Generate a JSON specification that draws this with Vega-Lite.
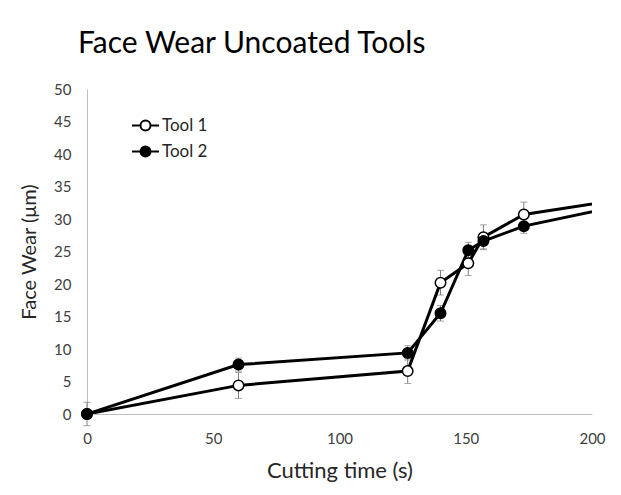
{
  "$schema": "https://vega.github.io/schema/vega-lite/v6.json",
  "width": 505,
  "height": 325,
  "autosize": "none",
  "padding": {"left": 87, "top": 89, "right": 29, "bottom": 81},
  "background": "white",
  "title": {
    "text": "Face Wear Uncoated Tools",
    "anchor": "start",
    "frame": "group",
    "dx": -9,
    "dy": 35,
    "offset": 34,
    "baseline": "alphabetic",
    "font": "Lato",
    "fontSize": 30,
    "fontWeight": "normal",
    "color": "#000000"
  },
  "config": {
    "view": {"stroke": null},
    "axis": {
      "grid": false,
      "ticks": false,
      "domainColor": "#bfbfbf",
      "domainWidth": 1,
      "labelFont": "Lato",
      "labelFontSize": 15,
      "labelColor": "#404040",
      "titleFont": "Lato",
      "titleFontSize": 20,
      "titleFontWeight": "normal",
      "titleColor": "#262626"
    },
    "legend": {
      "labelFont": "Lato",
      "labelFontSize": 17,
      "labelColor": "#262626"
    }
  },
  "data": {
    "values": [
      {"tool": "Tool 1", "time": 0, "wear": 0, "err": 1.8},
      {"tool": "Tool 1", "time": 60, "wear": 4.4, "err": 2.0},
      {"tool": "Tool 1", "time": 127, "wear": 6.6, "err": 1.9},
      {"tool": "Tool 1", "time": 140, "wear": 20.2, "err": 1.9},
      {"tool": "Tool 1", "time": 151, "wear": 23.2, "err": 1.9},
      {"tool": "Tool 1", "time": 157, "wear": 27.2, "err": 1.9},
      {"tool": "Tool 1", "time": 173, "wear": 30.7, "err": 1.9},
      {"tool": "Tool 1", "time": 240, "wear": 34.7},
      {"tool": "Tool 2", "time": 0, "wear": 0, "err": 0},
      {"tool": "Tool 2", "time": 60, "wear": 7.6, "err": 1.0},
      {"tool": "Tool 2", "time": 127, "wear": 9.4, "err": 1.1},
      {"tool": "Tool 2", "time": 140, "wear": 15.5, "err": 1.2},
      {"tool": "Tool 2", "time": 151, "wear": 25.2, "err": 1.2},
      {"tool": "Tool 2", "time": 157, "wear": 26.6, "err": 1.2},
      {"tool": "Tool 2", "time": 173, "wear": 28.9, "err": 1.1},
      {"tool": "Tool 2", "time": 240, "wear": 34.4}
    ]
  },
  "encoding": {
    "x": {
      "field": "time",
      "type": "quantitative",
      "scale": {"domain": [0, 200], "nice": false, "zero": false},
      "axis": {"values": [0, 50, 100, 150, 200], "labelPadding": 17, "titlePadding": 14, "title": "Cutting time (s)", "titleFontSize": 22, "labelFlush": false}
    },
    "y": {
      "field": "wear",
      "type": "quantitative",
      "scale": {"domain": [0, 50], "nice": false},
      "axis": {"values": [0, 5, 10, 15, 20, 25, 30, 35, 40, 45, 50], "labelPadding": 16, "titlePadding": 14, "title": "Face Wear (μm)", "labelFlush": false}
    }
  },
  "layer": [
    {
      "transform": [{"filter": "datum.time <= 200 && datum.err > 0"}],
      "mark": {"type": "errorbar", "ticks": {"size": 7, "color": "#7f7f7f", "strokeWidth": 1}, "rule": {"color": "#7f7f7f", "strokeWidth": 1}},
      "encoding": {
        "yError": {"field": "err"},
        "detail": {"field": "tool"}
      }
    },
    {
      "mark": {"type": "line", "color": "black", "strokeWidth": 3, "clip": true},
      "encoding": {"detail": {"field": "tool"}}
    },
    {
      "transform": [{"filter": "datum.time <= 200"}],
      "mark": {"type": "point", "shape": "circle", "size": 110, "stroke": "black", "strokeWidth": 1.5, "opacity": 1, "filled": false},
      "encoding": {
        "fill": {
          "field": "tool",
          "type": "nominal",
          "scale": {"domain": ["Tool 1", "Tool 2"], "range": ["white", "black"]},
          "legend": {
            "title": null,
            "orient": "none",
            "legendX": 50,
            "legendY": 28,
            "symbolType": "M -2.7 0 L -1 0 M 1 0 L 2.7 0 M 1 0 A 1 1 0 1 1 -1 0 A 1 1 0 1 1 1 0 Z",
            "symbolSize": 100,
            "symbolStrokeColor": "black",
            "symbolStrokeWidth": 2,
            "symbolOpacity": 1,
            "labelOffset": 8,
            "rowPadding": 7
          }
        }
      }
    }
  ]
}
